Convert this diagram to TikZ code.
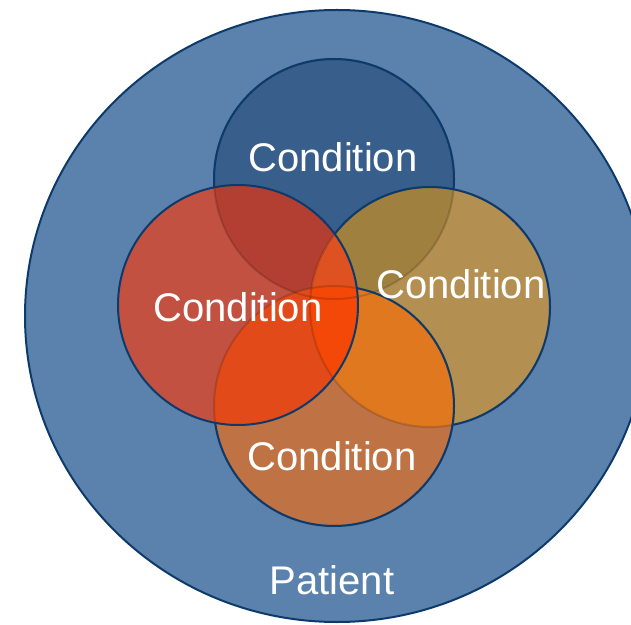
\documentclass[tikz,border=0pt]{standalone}
\usepackage{fontspec}
\setmainfont{Liberation Sans}
\definecolor{patientblue}{HTML}{5A82AC}
\definecolor{edgenavy}{HTML}{0D3A6B}
\definecolor{topfill}{HTML}{385F8B}
\definecolor{leftfill}{HTML}{C35141}
\definecolor{rightfill}{HTML}{B38F51}
\definecolor{bottomfill}{HTML}{BF7243}
\definecolor{topleft}{HTML}{B23F31}
\definecolor{topright}{HTML}{A0803F}
\definecolor{leftbottom}{HTML}{E34A1A}
\definecolor{rightbottom}{HTML}{E07820}
\definecolor{topleftright}{HTML}{DD5220}
\definecolor{core}{HTML}{F44808}
\tikzset{
  rim/.style={draw=edgenavy, line width=2pt},
  faintrim/.style={draw=black, draw opacity=0.15, line width=2pt},
  lbl/.style={text=white, font=\fontsize{40}{40}\selectfont, inner sep=0pt}
}
\begin{document}
\begin{tikzpicture}[x=1pt,y=1pt]
	\useasboundingbox (0,0) rectangle (631,624);
	
	% centres of the circles
	\coordinate (P) at (337,308);
	\coordinate (T) at (334,445);
	\coordinate (L) at (238,319);
	\coordinate (R) at (430,317);
	\coordinate (B) at (334,218);
	
	% patient
	\fill[patientblue](P) ellipse [x radius=312, y radius=306];
	\draw[rim](P) ellipse [x radius=312, y radius=306];
	
	% conditions
	\fill[topfill](T) circle [radius=120];
	\fill[rightfill](R) circle [radius=120];
	\fill[bottomfill](B) circle [radius=120];
	\fill[leftfill](L) circle [radius=120];
	
	% overlaps of two
	\begin{scope}
		\clip (T) circle [radius=120];
		\fill[topleft](L) circle [radius=120];
		\fill[topright](R) circle [radius=120];
	\end{scope}
	\begin{scope}
		\clip (B) circle [radius=120];
		\fill[leftbottom](L) circle [radius=120];
		\fill[rightbottom](R) circle [radius=120];
	\end{scope}
	\begin{scope}
		\clip (L) circle [radius=120];
		\fill[core](R) circle [radius=120];
	\end{scope}
	
	% overlaps of three
	\begin{scope}
		\clip (T) circle [radius=120];
		\clip (L) circle [radius=120];
		\fill[topleftright](R) circle [radius=120];
	\end{scope}
	\begin{scope}
		\clip (B) circle [radius=120];
		\clip (L) circle [radius=120];
		\fill[core](R) circle [radius=120];
	\end{scope}
	
	% edges seen through the circles on top
	\draw[faintrim](T) circle [radius=120];
	\draw[faintrim](R) circle [radius=120];
	\draw[faintrim](B) circle [radius=120];
	
	% edges in full
	\begin{scope}[even odd rule]
		\clip (-50,-50) rectangle (700,700) (L) circle [radius=120];
		\draw[rim](B) circle [radius=120];
		\begin{scope}[even odd rule]
			\clip (-50,-50) rectangle (700,700) (B) circle [radius=120];
			\draw[rim](R) circle [radius=120];
			\begin{scope}[even odd rule]
				\clip (-50,-50) rectangle (700,700) (R) circle [radius=120];
				\draw[rim](T) circle [radius=120];
			\end{scope}
		\end{scope}
	\end{scope}
	\draw[rim](L) circle [radius=120];
	
	% labels
	\node[lbl] (tcond) at (333,467) {Condition};
	\node[lbl] (lcond) at (238,317) {Condition};
	\node[lbl] (rcond) at (461,340) {Condition};
	\node[lbl] (bcond) at (332,168) {Condition};
	\node[lbl] (patient) at (332,44) {Patient};
\end{tikzpicture}
\end{document}
